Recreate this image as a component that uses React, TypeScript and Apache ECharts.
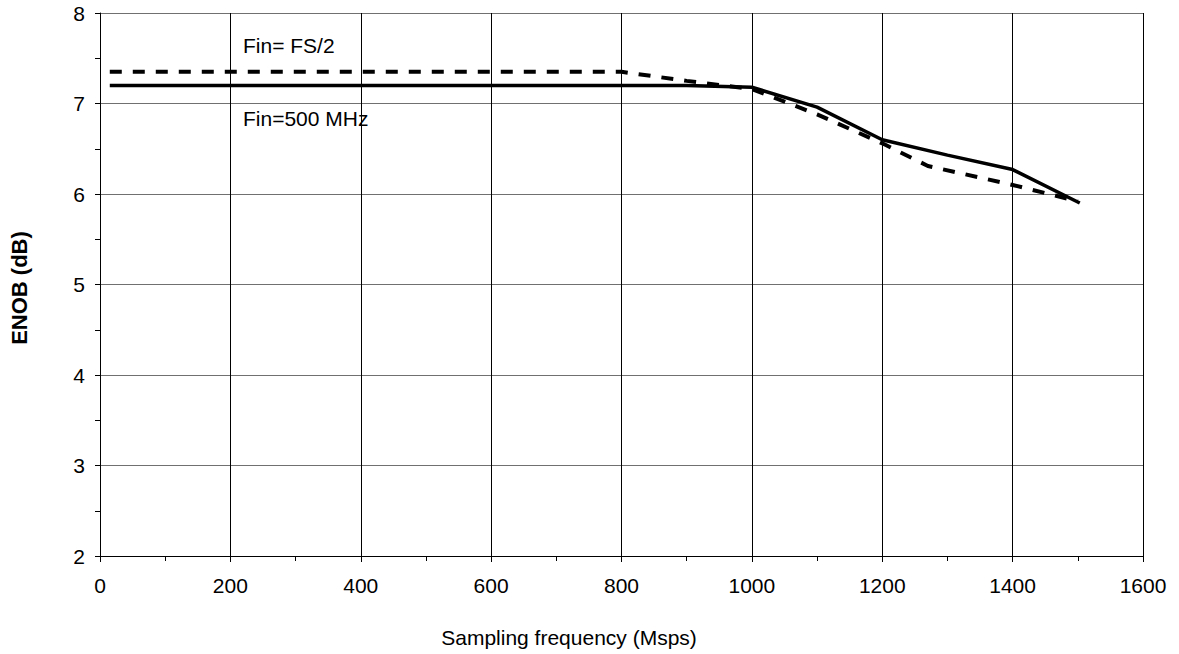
import React, { useEffect, useRef } from "react";
import * as echarts from "echarts";

const xTicks = [0, 200, 400, 600, 800, 1000, 1200, 1400, 1600];
const yTicks = [2, 3, 4, 5, 6, 7, 8];

const fin500X = [15, 900, 1000, 1100, 1200, 1300, 1400, 1503];
const fin500Y = [7.2, 7.2, 7.18, 6.96, 6.6, 6.43, 6.27, 5.9];

const finFsX = [15, 800, 900, 1000, 1100, 1200, 1270, 1400, 1500];
const finFsY = [7.35, 7.35, 7.25, 7.16, 6.88, 6.56, 6.31, 6.1, 5.92];

const xName = "Sampling frequency (Msps)";
const yName = "ENOB (dB)";
const labelFs = "Fin= FS/2";
const label500 = "Fin=500 MHz";

const FONT = "'Liberation Sans', Arial, sans-serif";

export default function App() {
  const ref = useRef<HTMLDivElement>(null);
  useEffect(() => {
    if (!ref.current) return;
    const chart = echarts.init(ref.current, undefined, { renderer: "svg" });
    chart.setOption({
      animation: false,
      backgroundColor: "#fff",
      grid: { left: 100, right: 36, top: 13, bottom: 98 },
      xAxis: {
        type: "value",
        min: xTicks[0],
        max: xTicks[xTicks.length - 1],
        interval: 200,
        axisLine: { show: true, lineStyle: { color: "#000", width: 1 } },
        axisTick: { show: true, length: 6, lineStyle: { color: "#000" } },
        minorTick: { show: true, splitNumber: 2, length: 5, lineStyle: { color: "#000" } },
        splitLine: { show: true, lineStyle: { color: "#000", width: 1 } },
        axisLabel: {
          color: "#000",
          fontSize: 21,
          fontFamily: FONT,
          margin: 19,
          formatter: (v: number) => String(v),
        },
      },
      yAxis: {
        type: "value",
        min: yTicks[0],
        max: yTicks[yTicks.length - 1],
        interval: 1,
        axisLine: { show: true, lineStyle: { color: "#000", width: 1 } },
        axisTick: { show: true, length: 5, lineStyle: { color: "#000" } },
        minorTick: { show: true, splitNumber: 2, length: 5, lineStyle: { color: "#000" } },
        splitLine: { show: true, lineStyle: { color: "#707070", width: 1 } },
        axisLabel: {
          color: "#000",
          fontSize: 21,
          fontFamily: FONT,
          margin: 15,
          formatter: (v: number) => String(v),
        },
      },
      series: [
        {
          type: "line",
          name: label500,
          data: fin500X.map((x, i) => [x, fin500Y[i]]),
          showSymbol: false,
          symbol: "none",
          lineStyle: { color: "#000", width: 3.5 },
          z: 3,
        },
        {
          type: "line",
          name: labelFs,
          data: finFsX.map((x, i) => [x, finFsY[i]]),
          showSymbol: false,
          symbol: "none",
          lineStyle: { color: "#000", width: 4, type: [12, 11] },
          z: 2,
        },
      ],
      graphic: [
        {
          type: "text",
          x: 243,
          y: 45,
          style: { text: labelFs, fill: "#000", font: `21px ${FONT}`, verticalAlign: "middle", align: "left" },
        },
        {
          type: "text",
          x: 243,
          y: 118,
          style: { text: label500, fill: "#000", font: `21px ${FONT}`, verticalAlign: "middle", align: "left" },
        },
        {
          type: "text",
          x: 569,
          y: 637,
          style: { text: xName, fill: "#000", font: `21px ${FONT}`, verticalAlign: "middle", align: "center" },
        },
        {
          type: "text",
          x: 19,
          y: 288,
          rotation: Math.PI / 2,
          style: { text: yName, fill: "#000", font: `bold 22px ${FONT}`, verticalAlign: "middle", align: "center" },
        },
      ],
    });
    return () => chart.dispose();
  }, []);
  return (
    <div
      ref={ref}
      style={{ position: "fixed", left: 0, top: 0, width: 1179, height: 654, background: "#fff" }}
    />
  );
}
